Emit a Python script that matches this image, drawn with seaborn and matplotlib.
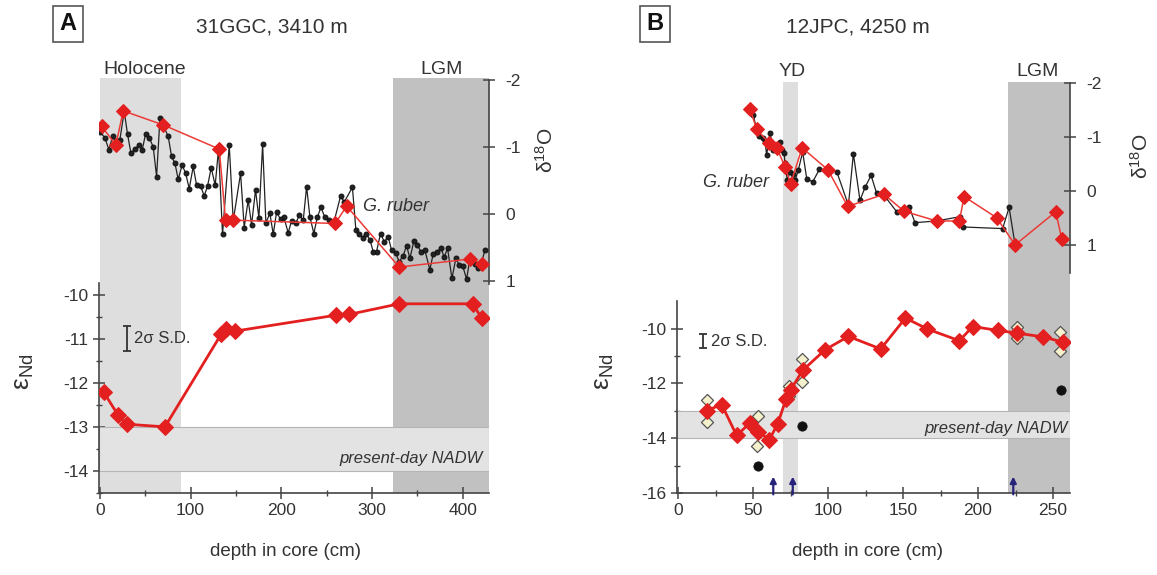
import matplotlib
matplotlib.use("Agg")
import matplotlib.pyplot as plt
import seaborn as sns

# --- panel A: 31GGC ---
a_d18o_depth = [0.5, 5.5, 9.9, 14.0, 18.0, 22.0, 26.8, 30.5, 34.2, 38.6, 43.0, 46.7, 50.4, 54.4,
                58.8, 62.5, 66.2, 70.6, 75.3, 79.0, 82.7, 86.3, 90.7, 94.5, 98.5, 102.9, 106.6,
                111.0, 115.0, 118.7, 122.7, 127.1, 130.8, 135.2, 142.6, 147.0, 155.1, 159.1,
                163.5, 167.2, 171.6, 175.3, 179.4, 183.0, 187.4, 191.1, 194.8, 199.2, 202.9,
                207.6, 211.3, 216.1, 219.8, 224.2, 227.9, 231.5, 235.9, 239.6, 243.7, 248.1,
                252.8, 258.0, 265.4, 269.4, 278.4, 282.2, 285.9, 289.6, 293.3, 297.7, 301.3,
                305.0, 309.4, 313.5, 317.9, 321.6, 326.0, 330.0, 334.4, 338.1, 341.8, 346.2,
                349.9, 353.9, 358.3, 363.8, 367.5, 371.9, 376.0, 379.6, 383.3, 388.1, 392.5,
                396.2, 399.9, 404.3, 408.0, 413.4, 417.1, 420.8, 424.5]
a_d18o = [-1.22, -1.14, -0.96, -1.16, -1.05, -1.11, -1.53, -1.19, -0.91, -0.97, -1.03, -0.96,
          -1.20, -1.14, -1.00, -0.56, -1.43, -1.30, -1.16, -0.86, -0.76, -0.52, -0.73, -0.61,
          -0.38, -0.71, -0.43, -0.42, -0.27, -0.42, -0.69, -0.43, -0.97, 0.30, -1.03, 0.10,
          -0.61, 0.20, -0.21, 0.16, -0.36, 0.06, -1.04, 0.13, -0.01, 0.30, -0.03, 0.08, 0.05,
          0.28, 0.10, 0.13, 0.02, 0.09, -0.41, 0.04, 0.29, 0.05, -0.10, 0.05, 0.09, 0.12,
          -0.27, -0.18, -0.40, 0.23, 0.30, 0.35, 0.29, 0.38, 0.56, 0.56, 0.29, 0.41, 0.34,
          0.54, 0.58, 0.71, 0.62, 0.47, 0.66, 0.40, 0.46, 0.56, 0.54, 0.83, 0.59, 0.56, 0.51,
          0.64, 0.51, 0.96, 0.66, 0.76, 0.77, 0.97, 0.66, 0.75, 0.80, 0.72, 0.54]
a_red_d18o_depth = [2, 17.6, 25.7, 69.8, 131.6, 138.5, 147, 259.5, 272, 330, 408, 421]
a_red_d18o = [-1.31, -1.03, -1.54, -1.33, -0.97, 0.09, 0.09, 0.14, -0.12, 0.79, 0.67, 0.74]
a_nd_depth = [4.4, 20.2, 29.4, 71.7, 134, 138.5, 148.8, 259.8, 274.9, 330, 411, 420.8]
a_nd = [-12.22, -12.74, -12.94, -13.0, -10.89, -10.79, -10.83, -10.47, -10.45, -10.21,
        -10.21, -10.53]

# --- panel B: 12JPC ---
b_d18o_depth = [50.2, 52.4, 54.2, 56.4, 58.0, 59.1, 60.2, 61.3, 63.6, 65.8, 68.0, 69.5, 70.7,
                71.3, 72.9, 74.5, 76.4, 78.0, 80.2, 83.1, 85.8, 89.8, 94.2, 99.0, 105.8, 113.6,
                116.9, 121.3, 124.7, 128.7, 132.4, 138.0, 145.8, 150.0, 154.2, 158.0, 172.4,
                188.0, 189.8, 216.4, 220.7, 224.7]
b_d18o = [-1.40, -1.14, -1.01, -0.97, -0.92, -0.66, -0.89, -1.07, -0.76, -0.85, -0.91, -0.75,
          -0.71, -0.51, -0.20, -0.35, -0.31, -0.20, -0.39, -0.72, -0.23, -0.17, -0.40, -0.40,
          -0.36, 0.26, -0.69, 0.17, -0.07, -0.29, 0.04, 0.10, 0.38, 0.37, 0.30, 0.58, 0.55,
          0.47, 0.66, 0.69, 0.30, 0.99]
b_red_d18o_depth = [48, 52.4, 60.9, 65.8, 71.3, 75.1, 82.7, 100, 113.1, 137.3, 150.7, 172.4,
                    187.6, 190.7, 212.4, 224.7, 251.8, 255.8]
b_red_d18o = [-1.52, -1.14, -0.88, -0.80, -0.45, -0.13, -0.80, -0.39, 0.28, 0.06, 0.37, 0.55,
              0.55, 0.10, 0.49, 0.99, 0.38, 0.88]
b_nd_depth = [19.1, 29.1, 39.1, 48, 53.6, 60.9, 66.4, 72, 75.1, 83.1, 98, 113.6, 135.1, 151.6,
              166.2, 187.6, 196.4, 213.1, 225.8, 243.6, 256.4]
b_nd = [-12.99, -12.77, -13.9, -13.44, -13.77, -14.05, -13.48, -12.57, -12.23, -11.52, -10.77,
        -10.28, -10.74, -9.61, -10.01, -10.44, -9.92, -10.06, -10.16, -10.30, -10.49]
b_open_depth = [19.1, 19.1, 49.1, 53.6, 52.7, 74.2, 74.2, 82.7, 82.7, 225.8, 225.8, 254.7, 254.7]
b_open_nd = [-12.59, -13.42, -13.54, -13.18, -14.27, -12.10, -12.45, -11.10, -11.95, -9.95,
             -10.34, -10.12, -10.83]
b_dot_depth = [53.6, 82.7, 255.1]
b_dot_nd = [-15.03, -13.54, -12.23]
b_arrow_depth = [63.5, 76.5, 223.5]

sns.set_style("ticks")
plt.rcParams['font.family'] = ['Liberation Sans', 'DejaVu Sans']
plt.rcParams['mathtext.fontset'] = 'custom'
plt.rcParams['mathtext.rm'] = 'Liberation Sans'
plt.rcParams['mathtext.it'] = 'Liberation Sans:italic'
plt.rcParams['axes.unicode_minus'] = False

W, H = 1157, 575
TXT = '#333333'
RED = '#e3201f'
LIGHT = '#dedede'
DARK = '#c1c1c1'

fig = plt.figure(figsize=(W / 100, H / 100), dpi=100)


def box(x0, y0, x1, y1):
    return [x0 / W, 1 - y1 / H, (x1 - x0) / W, (y1 - y0) / H]


def style_axes(ax, ax2, xmaj, xmin, ymaj, ymin, nd_bounds, d_bounds, d_ticks):
    for s in ['top', 'right']:
        ax.spines[s].set_visible(False)
    for s in ['top', 'left', 'bottom']:
        ax2.spines[s].set_visible(False)
    for a in (ax, ax2):
        a.patch.set_visible(False)
    ax.spines['left'].set_bounds(*nd_bounds)
    ax2.spines['right'].set_bounds(*d_bounds)
    for s in [ax.spines['left'], ax.spines['bottom'], ax2.spines['right']]:
        s.set_color('#444444')
        s.set_linewidth(1.2)
    ax.set_xticks(xmaj)
    ax.set_xticks(xmin, minor=True)
    ax.set_yticks(ymaj)
    ax.set_yticks(ymin, minor=True)
    ax2.set_yticks(d_ticks)
    ax2.set_yticklabels([str(t) for t in d_ticks])
    ax.tick_params(which='major', direction='inout', length=8, width=1.1, color='#444444',
                   labelsize=12.5, labelcolor=TXT)
    ax.tick_params(which='minor', direction='inout', length=5, width=1.0, color='#444444')
    ax2.tick_params(which='major', direction='inout', length=8, width=1.1, color='#444444',
                    labelsize=12.5, labelcolor=TXT, pad=8)
    ax2.tick_params(which='minor', right=False)
    ax.set_xlabel('')
    ax.set_ylabel('')
    ax2.set_ylabel('')


# ================= Panel A =================
axA = fig.add_axes(box(99, 78, 489, 493))
axA.set_xlim(-1, 429)
axA.set_ylim(-14.48, -5.09)
axA.axvspan(0, 89, color=LIGHT, lw=0, zorder=0)
axA.axvspan(323, 429, color=DARK, lw=0, zorder=0)
axA.axhspan(-14, -13, facecolor='#e3e3e3', edgecolor='#b5b5b5', lw=0.8, zorder=1)
sns.lineplot(x=a_nd_depth, y=a_nd, ax=axA, color=RED, lw=2, marker='D', markersize=8,
             markeredgecolor=RED, sort=False, estimator=None, zorder=5)
axA.errorbar([29.7], [-11.0], yerr=[0.28], color='#333333', capsize=3, lw=1.3, capthick=1.3)
axA.text(38, -11.0, '2σ S.D.', fontsize=12, color=TXT, va='center')
axA.text(422, -13.72, 'present-day NADW', fontsize=12, style='italic', color=TXT,
         ha='right', va='center', zorder=3)

axA2 = axA.twinx()
axA2.set_ylim(4.16, -2.03)
sns.lineplot(x=a_d18o_depth, y=a_d18o, ax=axA2, color='#222222', lw=0.9, marker='o',
             markersize=3.5, markeredgecolor='#111111', sort=False, estimator=None, zorder=3)
sns.lineplot(x=a_red_d18o_depth, y=a_red_d18o, ax=axA2, color='#ec3a36', lw=1.1, marker='D',
             markersize=7.5, markeredgecolor=RED, markerfacecolor=RED, sort=False,
             estimator=None, zorder=4)
axA2.text(290, -0.12, 'G. ruber', fontsize=13, style='italic', color=TXT, va='center')
axA2.set_xlim(-1, 429)
style_axes(axA, axA2, [0, 100, 200, 300, 400], [50, 150, 250, 350],
           [-14, -13, -12, -11, -10], [-14.5, -13.5, -12.5, -11.5, -10.5],
           (-14.48, -9.73), (-2, 1.05), [-2, -1, 0, 1])

# ================= Panel B =================
axB = fig.add_axes(box(677, 82, 1070, 493))
axB.set_xlim(-0.67, 261.3)
axB.set_ylim(-16, -0.99)
axB.axvspan(70.2, 79.8, color=LIGHT, lw=0, zorder=0)
axB.axvspan(220.2, 261.3, color=DARK, lw=0, zorder=0)
axB.axhspan(-14, -13, facecolor='#e3e3e3', edgecolor='#b5b5b5', lw=0.8, zorder=1)
sns.scatterplot(x=b_open_depth, y=b_open_nd, ax=axB, marker='D', s=38, color='#f4f1cc',
                edgecolor='#555555', linewidth=0.9, zorder=4)
sns.scatterplot(x=b_dot_depth, y=b_dot_nd, ax=axB, marker='o', s=45, color='#111111',
                edgecolor='#111111', zorder=4)
sns.lineplot(x=b_nd_depth, y=b_nd, ax=axB, color=RED, lw=2, marker='D', markersize=8,
             markeredgecolor=RED, sort=False, estimator=None, zorder=5)
for d in b_arrow_depth:
    axB.annotate('', xy=(d, -15.4), xytext=(d, -16.05),
                 arrowprops=dict(arrowstyle='-|>', color='#27237a', lw=1.6,
                                 mutation_scale=9, shrinkA=0, shrinkB=0), zorder=6)
axB.errorbar([16.7], [-10.45], yerr=[0.25], color='#333333', capsize=3, lw=1.3, capthick=1.3)
axB.text(22, -10.45, '2σ S.D.', fontsize=12, color=TXT, va='center')
axB.text(260, -13.65, 'present-day NADW', fontsize=12, style='italic', color=TXT,
         ha='right', va='center', zorder=3)

axB2 = axB.twinx()
axB2.set_ylim(5.56, -2.01)
sns.lineplot(x=b_d18o_depth, y=b_d18o, ax=axB2, color='#222222', lw=0.9, marker='o',
             markersize=3.5, markeredgecolor='#111111', sort=False, estimator=None, zorder=3)
sns.lineplot(x=b_red_d18o_depth, y=b_red_d18o, ax=axB2, color='#ec3a36', lw=1.1, marker='D',
             markersize=7.5, markeredgecolor=RED, markerfacecolor=RED, sort=False,
             estimator=None, zorder=4)
axB2.text(16.7, -0.15, 'G. ruber', fontsize=13, style='italic', color=TXT, va='center')
axB2.set_xlim(-0.67, 261.3)
style_axes(axB, axB2, [0, 50, 100, 150, 200, 250], [25, 75, 125, 175, 225],
           [-16, -14, -12, -10], [-15, -13, -11],
           (-16, -9.0), (-2, 1.5), [-2, -1, 0, 1])

# ================= figure texts =================
def ftext(x, y, s, **kw):
    kw.setdefault('color', TXT)
    fig.text(x / W, 1 - y / H, s, ha='center', va='center', **kw)


for lbl, x in [('A', 68), ('B', 655)]:
    ftext(x, 24, lbl, fontsize=17, fontweight='bold', color='#111111',
          bbox=dict(boxstyle='square,pad=0.28', fc='white', ec='#555555', lw=1.2))
ftext(272, 27, '31GGC, 3410 m', fontsize=15)
ftext(858, 27, '12JPC, 4250 m', fontsize=15)
ftext(145, 69, 'Holocene', fontsize=14)
ftext(442, 69, 'LGM', fontsize=14)
ftext(792, 72, 'YD', fontsize=14)
ftext(1038, 72, 'LGM', fontsize=14)
ftext(24, 372, r'ε$_{\rm Nd}$', fontsize=19, rotation=90)
ftext(604, 372, r'ε$_{\rm Nd}$', fontsize=19, rotation=90)
ftext(546, 150, r'δ$^{18}$O', fontsize=15, rotation=90)
ftext(1141, 156, r'δ$^{18}$O', fontsize=15, rotation=90)
ftext(285, 552, 'depth in core (cm)', fontsize=13.5)
ftext(868, 552, 'depth in core (cm)', fontsize=13.5)

fig.savefig('out.png', dpi=100)
